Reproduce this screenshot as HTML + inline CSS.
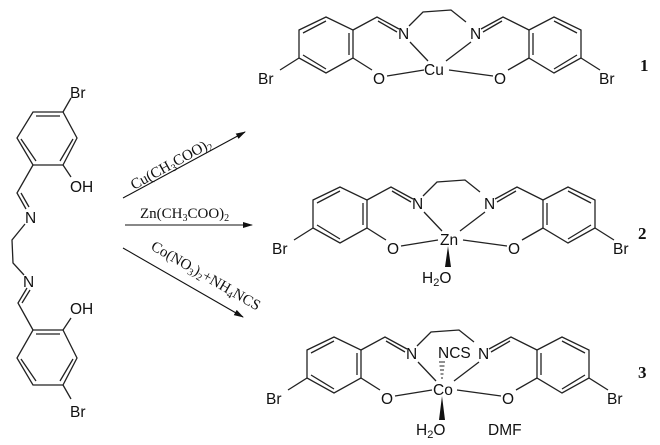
<!DOCTYPE html>
<html><head><meta charset="utf-8"><style>
html,body{margin:0;padding:0;background:#fff;}
svg{display:block;}
text{font-family:"Liberation Sans",sans-serif;font-size:15.5px;fill:#111;}
.s{font-family:"Liberation Serif",serif;font-size:15px;}
.b{font-family:"Liberation Serif",serif;font-size:17px;font-weight:bold;}
</style></head><body>
<svg width="660" height="445" viewBox="0 0 660 445" xmlns="http://www.w3.org/2000/svg">
<defs>
<marker id="ah" markerWidth="10" markerHeight="8" refX="9" refY="4" orient="auto" markerUnits="userSpaceOnUse">
<path d="M0,1 L10,4 L0,7 Z" fill="#111"/></marker>
<g id="cx" stroke="#222" stroke-width="1.3" fill="none">
<path d="M313,200 L340,187 L367,200 L367,228 L340,243 L313,228 Z"/>
<path d="M317,203 L340,191 M363,203 L363,225 M317,225 L340,239"/>
<path d="M543,200 L568,187 L595,200 L595,228 L568,243 L543,228 Z"/>
<path d="M568,191 L591,203 M547,203 L547,225 M591,225 L568,239"/>
<path d="M367,200 L391,187 L413,199 M392,191 L411,202"/>
<path d="M543,200 L517,187 L495,199 M516,191 L497,202"/>
<path d="M423,196 L437,182 L465,180 L480,192"/>
<path d="M367,228 L386,240 M543,228 L522,240"/>
<path d="M313,228 L294,240 M595,228 L614,240"/>
<path d="M424,212 L442,231 M485,212 L460,231 M401,246 L438,240 M463,240 L507,246"/>
</g>
</defs>

<g stroke="#222" stroke-width="1.3" fill="none">
<path d="M33,112 L63,112 L77,138 L63,165 L33,165 L17,138 Z"/>
<path d="M36,116 L60,116 M73,139 L60,161 M21,139 L36,161"/>
<path d="M63,112 L71,98 M63,165 L71,177"/>
<path d="M33,165 L17,193 L26,209 M21,193 L29,207"/>
<path d="M25,224 L12,240 L13,263 L24,275"/>
<path d="M27,288 L18,303 L33,330 M30,290 L22,303"/>
<path d="M33,330 L63,330 L77,358 L63,385 L33,385 L17,358 Z"/>
<path d="M36,334 L60,334 M73,359 L60,381 M21,359 L36,381"/>
<path d="M63,330 L71,318 M63,385 L71,399"/>
</g>
<text x="70" y="98">Br</text>
<text x="70" y="192">OH</text>
<text x="25" y="223">N</text>
<text x="23" y="287">N</text>
<text x="70" y="314">OH</text>
<text x="70" y="417">Br</text>

<g stroke="#111" stroke-width="1.1">
<line x1="123" y1="198" x2="245" y2="132" marker-end="url(#ah)"/>
<line x1="125" y1="225" x2="252" y2="225" marker-end="url(#ah)"/>
<line x1="123" y1="248" x2="243" y2="317" marker-end="url(#ah)"/>
</g>
<text class="s" transform="translate(134,190) rotate(-29)">Cu(CH<tspan font-size="10" dy="3">3</tspan><tspan dy="-3">COO)</tspan><tspan font-size="10" dy="3">2</tspan></text>
<text class="s" x="140" y="218">Zn(CH<tspan font-size="10" dy="3">3</tspan><tspan dy="-3">COO)</tspan><tspan font-size="10" dy="3">2</tspan></text>
<text class="s" transform="translate(150,249) rotate(30)">Co(NO<tspan font-size="10" dy="3">3</tspan><tspan dy="-3">)</tspan><tspan font-size="10" dy="3">2</tspan><tspan dy="-3">+NH</tspan><tspan font-size="10" dy="3">4</tspan><tspan dy="-3">NCS</tspan></text>

<g transform="translate(-14,-170)">
<use href="#cx"/>
<text x="412" y="209">N</text><text x="484" y="209">N</text>
<text x="387" y="254">O</text><text x="508" y="254">O</text>
<text x="272" y="254">Br</text><text x="613" y="254">Br</text>
<text x="438" y="245">Cu</text>
</g>
<text class="b" x="640" y="71">1</text>

<g>
<use href="#cx"/>
<text x="412" y="209">N</text><text x="484" y="209">N</text>
<text x="387" y="254">O</text><text x="508" y="254">O</text>
<text x="272" y="254">Br</text><text x="613" y="254">Br</text>
<text x="440" y="245">Zn</text>
<path d="M448,246 L445,267 L451,267 Z" fill="#111"/>
<text x="422" y="283">H<tspan font-size="11" dy="3">2</tspan><tspan dy="-3">O</tspan></text>
</g>
<text class="b" x="638" y="239">2</text>

<g transform="translate(-6,150)">
<use href="#cx"/>
<text x="412" y="209">N</text><text x="484" y="209">N</text>
<text x="387" y="254">O</text><text x="508" y="254">O</text>
<text x="272" y="254">Br</text><text x="613" y="254">Br</text>
<text x="439" y="245">Co</text>
<text x="444" y="208" font-size="14.5">NCS</text>
<g stroke="#222" stroke-width="1">
<line x1="445" y1="212" x2="451" y2="212"/><line x1="445.5" y1="216" x2="450.5" y2="216"/>
<line x1="446" y1="220" x2="450" y2="220"/><line x1="446.5" y1="224" x2="449.5" y2="224"/>
<line x1="447" y1="228" x2="449" y2="228"/>
</g>
<path d="M448,246 L445,270 L451,270 Z" fill="#111"/>
<text x="422" y="285">H<tspan font-size="11" dy="3">2</tspan><tspan dy="-3">O</tspan></text>
<text x="494" y="285" font-size="14.5">DMF</text>
</g>
<text class="b" x="638" y="378">3</text>
</svg>
</body></html>
